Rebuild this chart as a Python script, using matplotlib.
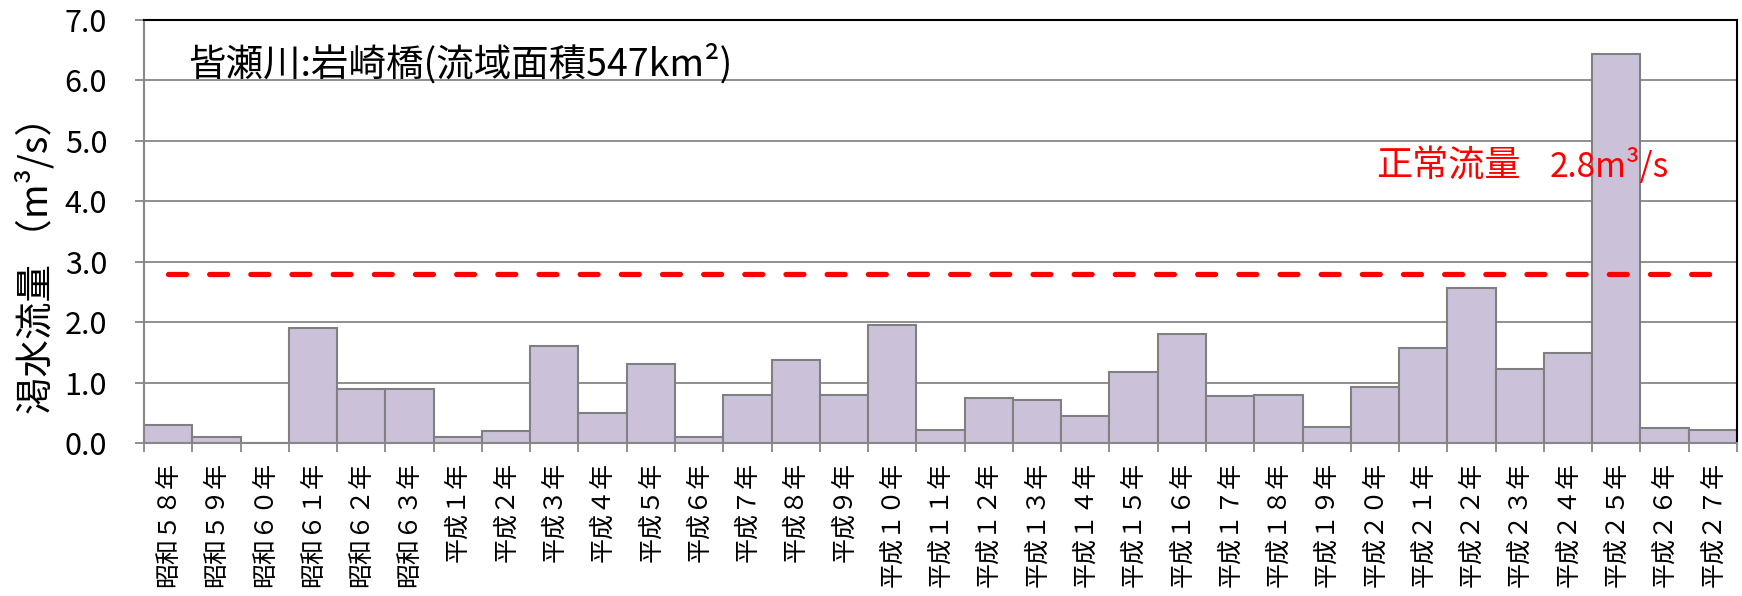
import numpy as np
import matplotlib
matplotlib.use("Agg")
import matplotlib.pyplot as plt

plt.rcParams['font.family'] = ['Noto Sans CJK JP', 'DejaVu Sans']

years = ["昭和５８年", "昭和５９年", "昭和６０年", "昭和６１年", "昭和６２年", "昭和６３年",
         "平成１年", "平成２年", "平成３年", "平成４年", "平成５年", "平成６年",
         "平成７年", "平成８年", "平成９年", "平成１０年", "平成１１年", "平成１２年",
         "平成１３年", "平成１４年", "平成１５年", "平成１６年", "平成１７年", "平成１８年",
         "平成１９年", "平成２０年", "平成２１年", "平成２２年", "平成２３年", "平成２４年",
         "平成２５年", "平成２６年", "平成２７年"]
flows = [0.30, 0.10, 0.00, 1.90, 0.90, 0.90,
         0.10, 0.20, 1.60, 0.50, 1.30, 0.10,
         0.80, 1.38, 0.80, 1.96, 0.22, 0.74,
         0.71, 0.45, 1.18, 1.81, 0.77, 0.79,
         0.27, 0.93, 1.58, 2.56, 1.23, 1.49,
         6.44, 0.24, 0.21]
normal_flow = 2.8
yticks = [0.0, 1.0, 2.0, 3.0, 4.0, 5.0, 6.0, 7.0]

W, H = 1742, 596
fig = plt.figure(figsize=(W / 100, H / 100), dpi=100)
L, R, T, B = 144, 1737, 20, 443
ax = fig.add_axes([L / W, 1 - B / H, (R - L) / W, (B - T) / H])

grey = '#878787'
x = np.arange(len(flows))
ax.bar(x, flows, width=1.0, color='#CBC2DA', edgecolor='#808080', linewidth=1.5, zorder=2)
ax.plot(x, [normal_flow] * len(x), color='#FF0000', lw=3.8, dashes=(3.4, 4.4),
        dash_capstyle='round', zorder=4)

ax.set_xlim(-0.5, len(flows) - 0.5)
ax.set_ylim(yticks[0], yticks[-1])
ax.set_yticks(yticks)
ax.set_yticklabels([f"{v:.1f}" for v in yticks])
ax.yaxis.grid(True, color=grey, lw=1.3)
ax.set_axisbelow(True)

ax.set_xticks(x)
ax.set_xticklabels(years, rotation=90, fontsize=18)
ax.set_xticks(np.arange(-0.5, len(flows), 1.0), minor=True)
ax.tick_params(axis='x', which='major', length=0, pad=14)
ax.tick_params(axis='x', which='minor', length=6.5, width=1.3, color=grey)
ax.tick_params(axis='y', length=6.5, width=1.3, color=grey, labelsize=22, pad=20)

for s in ['top', 'right']:
    ax.spines[s].set_color('black')
    ax.spines[s].set_linewidth(1.5)
for s in ['left', 'bottom']:
    ax.spines[s].set_color(grey)
    ax.spines[s].set_linewidth(1.5)

fig.text(37 / W, 1 - 256 / H, "渇水流量 （m³/s）", rotation=90, ha='center', va='center',
         fontsize=27)
fig.text(188 / W, 1 - 64 / H, "皆瀬川:岩崎橋(流域面積547km²)", ha='left', va='center',
         fontsize=27)
fig.text(1376 / W, 1 - 167 / H, "正常流量", ha='left', va='center',
         fontsize=26, color='#FF0000', zorder=5)
fig.text(1550 / W, 1 - 167 / H, "2.8m³/s", ha='left', va='center',
         fontsize=24, color='#FF0000', zorder=5)

fig.savefig("out.png", dpi=100)
